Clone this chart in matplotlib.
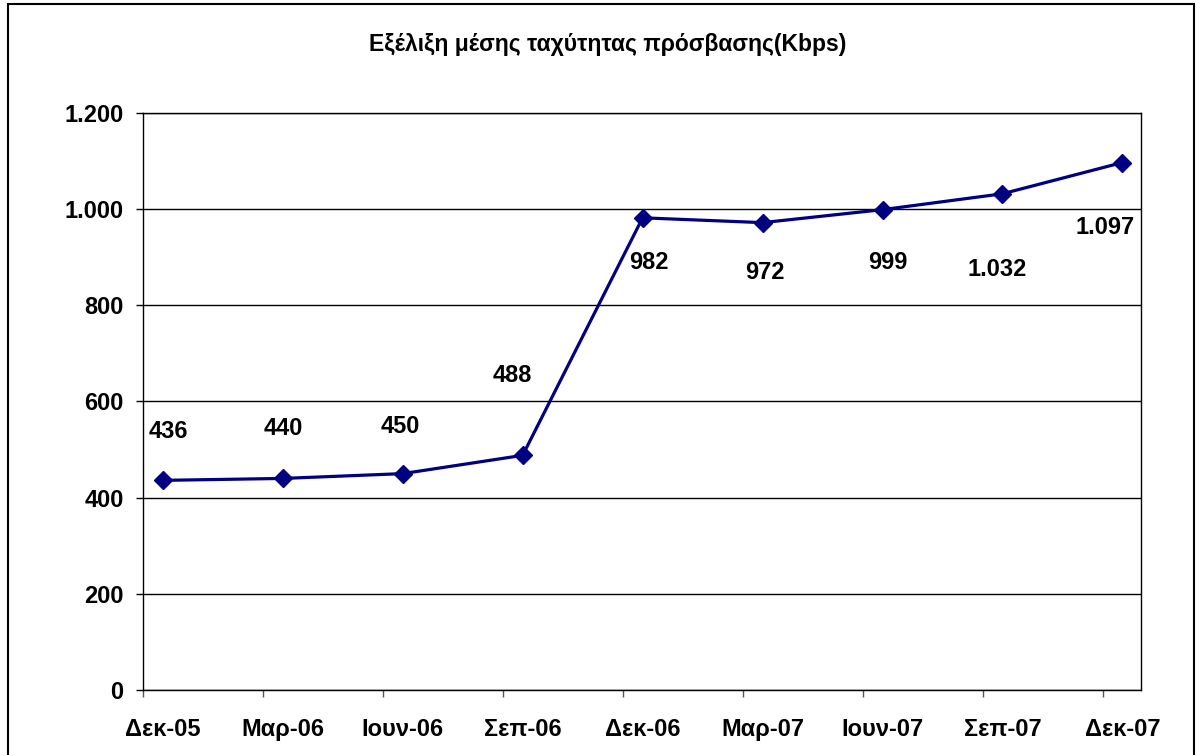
import matplotlib.pyplot as plt
import numpy as np
from matplotlib.ticker import FuncFormatter, FixedLocator
from matplotlib.patches import Rectangle

plt.rcParams['font.family'] = ['Liberation Sans', 'DejaVu Sans']

# data
months = ['Δεκ-05', 'Μαρ-06', 'Ιουν-06', 'Σεπ-06', 'Δεκ-06',
          'Μαρ-07', 'Ιουν-07', 'Σεπ-07', 'Δεκ-07']
speed_kbps = [436, 440, 450, 488, 982, 972, 999, 1032, 1097]

title = 'Εξέλιξη μέσης ταχύτητας πρόσβασης(Kbps)'

# label offsets in pixels (hand placed like in the excel chart)
label_offsets = [(6, 49), (1, 50), (-2, 47), (-10, 80), (6, -45),
                 (2, -50), (5, -53), (-5, -76), (-17, -65)]


def dot_thousands(v, pos=None):
    return f"{v:,.0f}".replace(",", ".")


fig = plt.figure(figsize=(12, 7.55), dpi=100)
ax = fig.add_axes([143 / 1200, 65 / 755, 998 / 1200, 577 / 755])

shift = 0.165  # points sit a bit right of the tick marks (date axis)
ticks = np.arange(len(months))
xs = ticks + shift

ax.plot(xs, speed_kbps, color='#000080', lw=2.3, marker='D', markersize=9,
        markerfacecolor='#000080', markeredgecolor='#000080', zorder=3)

for x, v, (dx, dy) in zip(xs, speed_kbps, label_offsets):
    ax.annotate(dot_thousands(v), (x, v), xytext=(dx, dy), textcoords='offset pixels',
                ha='center', va='center', fontsize=17, fontweight='bold', color='black')

ax.set_xlim(0, 8.32)
ax.set_ylim(0, 1200)
ax.set_yticks(np.arange(0, 1201, 200))
ax.yaxis.set_major_formatter(FuncFormatter(dot_thousands))
ax.grid(axis='y', color='black', lw=1)
ax.set_axisbelow(True)

# tick marks at the months, labels under the points
ax.xaxis.set_minor_locator(FixedLocator(ticks))
ax.set_xticks(xs)
ax.set_xticklabels(months)
ax.tick_params(axis='x', which='major', length=0, pad=20, labelsize=17)
ax.tick_params(axis='x', which='minor', length=5, width=1, color='#555555')
ax.tick_params(axis='y', length=5, width=1, pad=9, labelsize=17)
for lab in ax.get_xticklabels() + ax.get_yticklabels():
    lab.set_fontweight('bold')

for sp in ax.spines.values():
    sp.set_color('black')
    sp.set_linewidth(1)

fig.text(0.506, 1 - 45 / 755, title, ha='center', va='center',
         fontsize=16.5, fontweight='bold')

# outer chart border
fig.patches.append(Rectangle((8 / 1200, -0.02), 1186 / 1200, 1 - 4 / 755 + 0.02,
                             transform=fig.transFigure, fill=False,
                             edgecolor='black', lw=1.5))

plt.savefig('out.png', dpi=100)
